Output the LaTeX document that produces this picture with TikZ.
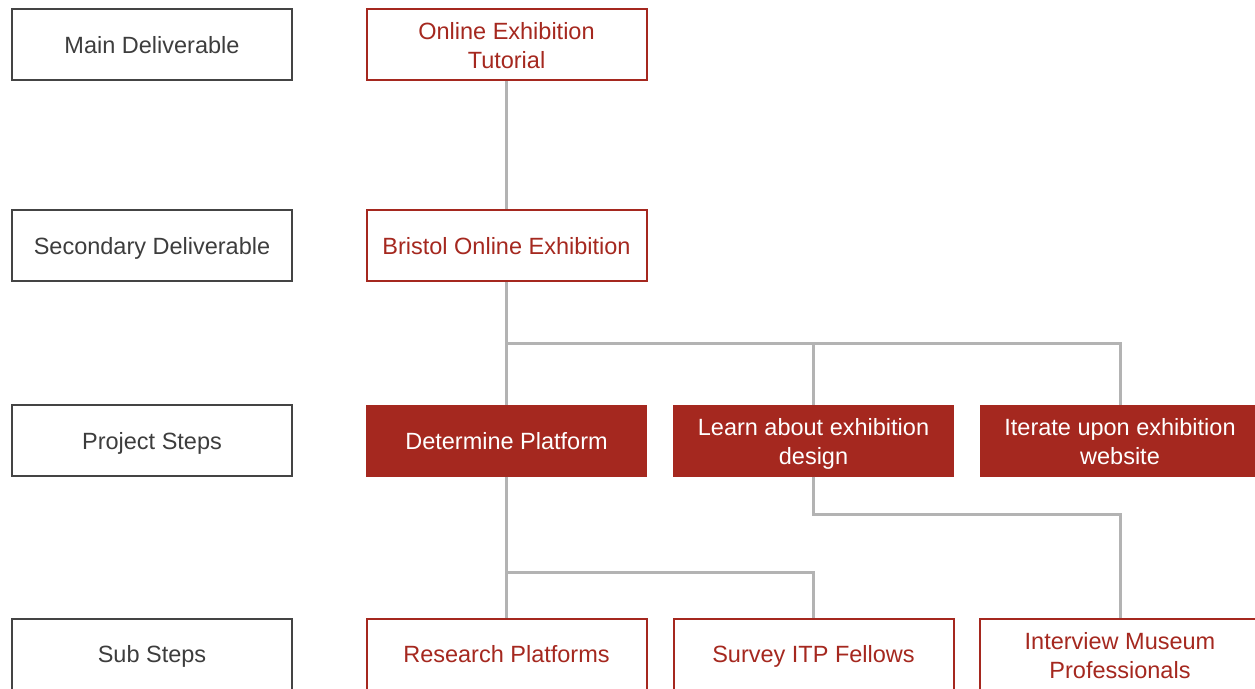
\documentclass[tikz,border=0pt]{standalone}
\usepackage{fontspec}
\setmainfont{Liberation Sans}
\definecolor{brick}{HTML}{A5281F}
\definecolor{linegray}{HTML}{B3B3B3}
\definecolor{labgray}{HTML}{444444}
\newcommand{\toppad}{\rule{0pt}{28.5pt}}
\begin{document}
\begin{tikzpicture}[x=1pt,y=1pt,
  box/.style={minimum width=280pt,minimum height=71pt,inner sep=2pt,align=center,font=\fontsize{23.5}{29}\selectfont,
    execute at begin node={\rule{0pt}{26.5pt}}, execute at end node={\strut}},
  label/.style={box,draw=labgray,line width=2pt,text=labgray!90!black},
  outbox/.style={box,draw=brick,line width=2pt,text=brick,fill=white},
  fillbox/.style={box,draw=brick,line width=1pt,fill=brick,text=white},
  conn/.style={draw=linegray,line width=3pt}]
\useasboundingbox (0,0) rectangle (1255,-688);
\clip (0,0) rectangle (1255,-688);
% left labels
\node[label] (l1) at (152,-44.5) {Main Deliverable};
\node[label] (l2) at (152,-245.5) {Secondary Deliverable};
\node[label] (l3) at (152,-440.5) {Project Steps};
\node[label] (l4) at (152,-654) {Sub Steps};
% junctions
\coordinate (j1) at (507,-343);
\coordinate (j2) at (507,-572);
\coordinate (j3) at (1120,-514);
% nodes
\node[outbox] (tut) at (506.5,-44.5) {\toppad Online Exhibition\\Tutorial};
\node[outbox] (bri) at (506.5,-245.5) {Bristol Online Exhibition};
\node[fillbox] (det) at (506.5,-440.5) {Determine Platform};
\node[fillbox] (lea) at (813.5,-440.5) {\toppad Learn about exhibition\\design};
\node[fillbox] (ite) at (1120,-440.5) {\toppad Iterate upon exhibition\\website};
\node[outbox] (res) at (506.5,-654) {Research Platforms};
\node[outbox] (sur) at (813.5,-654) {Survey ITP Fellows};
\node[outbox] (int) at (1120,-654) {\toppad Interview Museum\\Professionals};
\draw[conn] (tut.south) -- (bri.north);
\draw[conn] (bri.south) -- (det.north);
\draw[conn] (j1) -| (lea.north);
\draw[conn] (j1) -| (ite.north);
\draw[conn] (det.south) -- (res.north);
\draw[conn] (j2) -| (sur.north);
\draw[conn] (lea.south) |- (j3) -- (int.north);
\end{tikzpicture}
\end{document}
